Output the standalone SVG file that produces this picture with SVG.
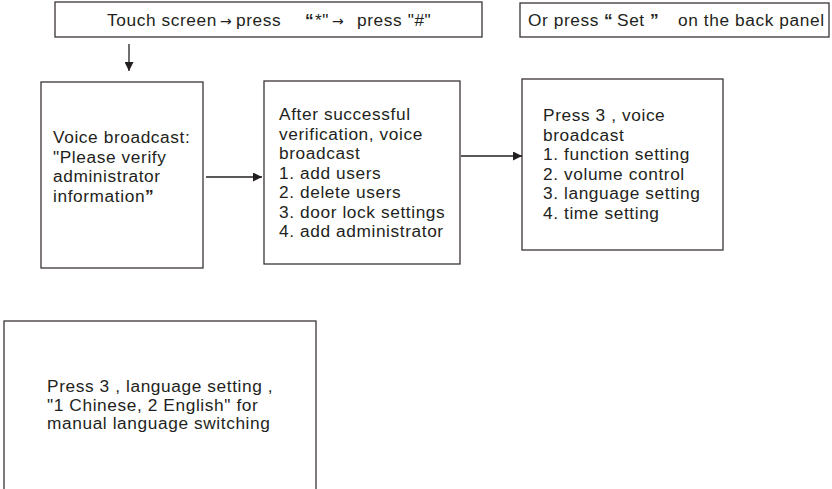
<svg xmlns="http://www.w3.org/2000/svg" width="832" height="489" viewBox="0 0 832 489">
<style>
.box{fill:#fff;stroke:#3b3533;stroke-width:1.3}
.t{font-family:"Liberation Sans",Arial,sans-serif;font-size:17.3px;letter-spacing:0.6px;fill:#231f20}
.b{font-weight:bold}
.ar{font-family:"DejaVu Sans",sans-serif;font-size:14px;letter-spacing:0}
.c{stroke:#231f20;stroke-width:1.3;fill:none}
</style>
<defs>
<marker id="ah" viewBox="0 0 10 10" refX="10" refY="5" markerWidth="9" markerHeight="9" markerUnits="userSpaceOnUse" orient="auto">
<path d="M0,0 L10,5 L0,10 z" fill="#231f20"/>
</marker>
</defs>
<rect width="832" height="489" fill="#fff"/>
<g id="top-box">
<rect class="box" x="55" y="2" width="427" height="35"/>
<text class="t" y="26"><tspan x="107">Touch screen</tspan><tspan x="220" class="ar">→</tspan><tspan x="236">press</tspan><tspan x="305" class="b">“</tspan><tspan x="315">*"</tspan><tspan x="332" class="ar">→</tspan><tspan x="357">press "#"</tspan></text>
</g>
<g id="set-box">
<rect class="box" x="520" y="3" width="309" height="34"/>
<text class="t" y="26"><tspan x="528">Or press</tspan><tspan x="604" class="b">“</tspan><tspan x="617">Set</tspan><tspan x="650" class="b">”</tspan><tspan x="678">on the back panel</tspan></text>
</g>
<g id="verify-box">
<rect class="box" x="41" y="82" width="162" height="186"/>
<text class="t"><tspan x="53" y="143">Voice broadcast:</tspan><tspan x="53" y="162.5">"Please verify</tspan><tspan x="53" y="182">administrator</tspan><tspan x="53" y="201.5">information<tspan class="b">”</tspan></tspan></text>
</g>
<g id="menu-box">
<rect class="box" x="264" y="81" width="196" height="183"/>
<text class="t"><tspan x="279" y="120">After successful</tspan><tspan x="279" y="139.5">verification, voice</tspan><tspan x="279" y="159">broadcast</tspan><tspan x="279" y="178.5">1. add users</tspan><tspan x="279" y="198">2. delete users</tspan><tspan x="279" y="217.5">3. door lock settings</tspan><tspan x="279" y="237">4. add administrator</tspan></text>
</g>
<g id="settings-box">
<rect class="box" x="522" y="79" width="201" height="171"/>
<text class="t"><tspan x="543" y="121">Press 3 , voice</tspan><tspan x="543" y="140.5">broadcast</tspan><tspan x="543" y="160">1. function setting</tspan><tspan x="543" y="179.5">2. volume control</tspan><tspan x="543" y="199">3. language setting</tspan><tspan x="543" y="218.5">4. time setting</tspan></text>
</g>
<g id="language-box">
<rect class="box" x="4" y="321" width="312" height="172"/>
<text class="t"><tspan x="47" y="392">Press 3 , language setting ,</tspan><tspan x="47" y="410.5">"1 Chinese, 2 English" for</tspan><tspan x="47" y="429">manual language switching</tspan></text>
</g>
<g id="connectors">
<line class="c" x1="129" y1="44" x2="129" y2="71" marker-end="url(#ah)"/>
<line class="c" x1="206" y1="177" x2="262" y2="177" marker-end="url(#ah)"/>
<line class="c" x1="461" y1="156" x2="522" y2="156" marker-end="url(#ah)"/>
</g>
</svg>
